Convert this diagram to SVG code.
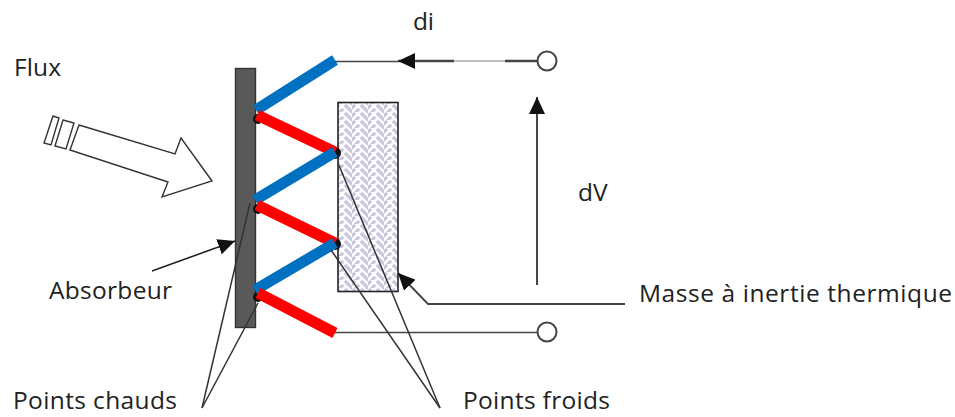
<svg xmlns="http://www.w3.org/2000/svg" width="955" height="417" viewBox="0 0 955 417">
<style>
text{font-family:"Open Sans","Noto Sans",sans-serif;font-size:24.500px;fill:#222}
.hot{stroke:#f00;stroke-width:11;fill:none}
.cold{stroke:#0070c0;stroke-width:11;fill:none}
.w{stroke:#444;stroke-width:1.6;fill:none}
.t{stroke:#333;stroke-width:1.5;fill:none}
.o{fill:#fff;stroke:#333;stroke-width:1.4;stroke-linejoin:miter}
.term{fill:#fff;stroke:#444;stroke-width:2}
.dot{fill:#111}
</style>
<defs>
<pattern id="weave" width="16" height="8" patternUnits="userSpaceOnUse">
<rect width="16" height="8" fill="#cdc5e0"/>
<path d="M-1 9L9 -1M-1 1L1 -1M7 9L9 7M8 4L13 9M8 -4L21 9M3 -1L8 4" stroke="#fff" stroke-width="2.400" fill="none"/>
</pattern>
<marker id="ah" markerUnits="userSpaceOnUse" markerWidth="18" markerHeight="16" refX="17" refY="8" orient="auto"><path d="M0 0L17 8L0 16Z" fill="#111"/></marker>
</defs>
<g id="absorbeur"><rect x="235.500" y="68.500" width="20" height="259" fill="#595959" stroke="#333" stroke-width="1.400"/></g>
<g id="masse"><rect x="338" y="102.500" width="60" height="189" fill="url(#weave)" stroke="#222" stroke-width="1.600"/></g>
<g id="flux-arrow">
<path class="o" d="M79 125L175 154L181 138L212 181L162 197L168 182L70 150Z"/>
<path class="o" d="M63 120L74 123L66 149L55 146Z"/>
<path class="o" d="M53 116L59 118L51 145L44 143Z"/>
</g>
<g id="thermocouples">
<circle class="dot" cx="258" cy="119" r="5"/>
<circle class="dot" cx="335" cy="153" r="6"/>
<circle class="dot" cx="258" cy="209" r="5"/>
<circle class="dot" cx="335" cy="244" r="6"/>
<circle class="dot" cx="258" cy="297" r="5"/>
<path class="cold" d="M256 110L335 60"/>
<path class="hot" d="M257 115L335 152"/>
<path class="cold" d="M255 200L335 152"/>
<path class="hot" d="M257 205L335 243"/>
<path class="cold" d="M255 290L335 243"/>
<path class="hot" d="M258 293L335 333"/>
</g>
<g id="connectors">
<path class="w" d="M335 61.500H398"/>
<path d="M454 61H398" stroke="#444" stroke-width="2.500" fill="none" marker-end="url(#ah)"/>
<path d="M454 61H505" stroke="#aaa" stroke-width="1.500"/>
<path d="M505 61H537" stroke="#444" stroke-width="2.500"/>
<path class="w" d="M335 332.500H537"/>
<path d="M537 285V97" stroke="#333" stroke-width="1.800" fill="none" marker-end="url(#ah)"/>
<path d="M152 271L235 241" stroke="#222" stroke-width="1.600" fill="none" marker-end="url(#ah)"/>
<path d="M625 304H428L398 273" stroke="#444" stroke-width="1.800" fill="none" marker-end="url(#ah)"/>
<path class="t" d="M202 408L250 203"/>
<path class="t" d="M202 408L258 303"/>
<path class="t" d="M440 408L338 163"/>
<path class="t" d="M440 408L331 250"/>
</g>
<g id="term-top"><circle class="term" cx="547" cy="61" r="9.500"/></g>
<g id="term-bottom"><circle class="term" cx="547" cy="332" r="9.500"/></g>
<g id="labels">
<text x="14" y="76" textLength="47">Flux</text>
<text x="413" y="30" textLength="21">di</text>
<text x="578" y="201">dV</text>
<text x="49" y="299" textLength="123">Absorbeur</text>
<text x="639" y="302" textLength="313">Masse à inertie thermique</text>
<text x="13" y="409" textLength="164">Points chauds</text>
<text x="463" y="409" textLength="147">Points froids</text>
</g>
</svg>
